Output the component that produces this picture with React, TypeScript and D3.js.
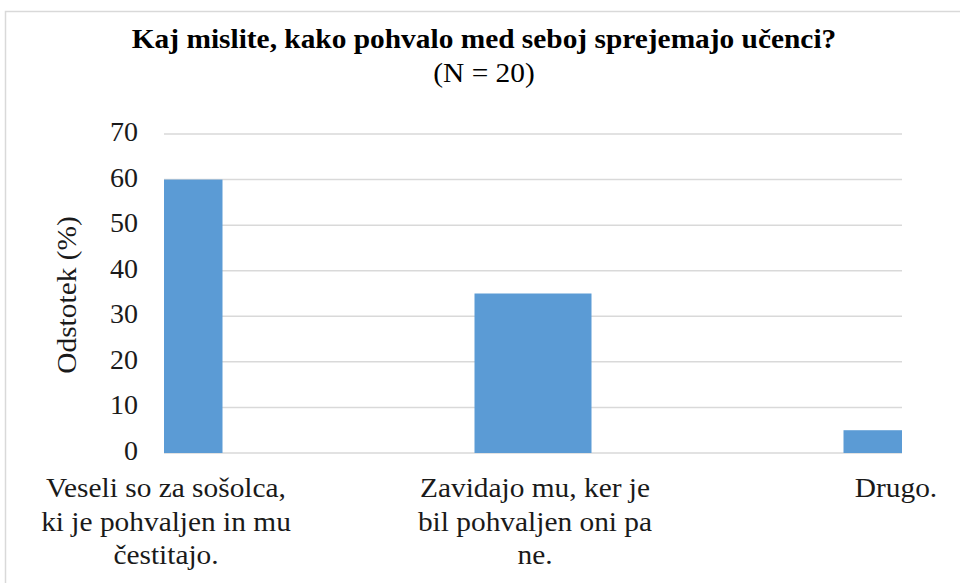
import React from "react";
import * as d3 from "d3";

const categories = [
  ["Veseli so za sošolca,", "ki je pohvaljen in mu", "čestitajo."],
  ["Zavidajo mu, ker je", "bil pohvaljen oni pa", "ne."],
  ["Drugo."],
];
const values = [60, 35, 5];
const yTicks = [0, 10, 20, 30, 40, 50, 60, 70];

const W = 960;
const H = 583;
const FONT = "Liberation Serif";
const TEXT = "#1a1a1a";
const GRID = "#d9d9d9";
const BAR = "#5b9bd5";

// the reference text runs a little wider than the font does
const SX = 1.05;

const left = 164;
const right = 902;
const top = 134;
const bottom = 453;
const barW = 117;

function App() {
  const x = d3
    .scalePoint<number>()
    .domain(categories.map((_, i) => i))
    .range([left, right]);
  const y = d3.scaleLinear().domain([0, 70]).range([bottom, top]);

  const txt = { fontFamily: FONT, fontSize: 28, fill: TEXT };

  // label anchor: last one is pulled in a bit so it stays inside the frame
  const labelX = (i: number) => (x(i) as number) + (i === categories.length - 1 ? -6 : 2);

  return (
    <svg
      width={W}
      height={H}
      style={{ position: "absolute", left: 0, top: 0, background: "#fff" }}
    >
      <defs>
        <clipPath id="plot-clip">
          <rect x={left} y={0} width={right - left} height={H} />
        </clipPath>
      </defs>

      {/* chart border */}
      <path
        d={`M5.5,${H} L5.5,11.5 L${W},11.5`}
        fill="none"
        stroke={GRID}
        strokeWidth={1.5}
      />

      {/* title */}
      <text
        transform={`translate(484,48) scale(${SX},1)`}
        textAnchor="middle"
        style={{ fontFamily: FONT, fontSize: 28, fontWeight: "bold", fill: "#000" }}
      >
        Kaj mislite, kako pohvalo med seboj sprejemajo učenci?
      </text>
      <text
        transform={`translate(484,82) scale(${SX},1)`}
        textAnchor="middle"
        style={{ ...txt, fill: "#000" }}
      >
        (N = 20)
      </text>

      {/* grid */}
      {yTicks.map((t) => (
        <line
          key={t}
          x1={left}
          x2={right}
          y1={y(t)}
          y2={y(t)}
          stroke={GRID}
          strokeWidth={1.5}
        />
      ))}

      {/* y tick labels */}
      {yTicks.map((t) => (
        <text key={t} x={138} y={y(t) + 7} textAnchor="end" style={txt}>
          {t}
        </text>
      ))}

      {/* y axis title */}
      <text
        transform={`translate(76,295) rotate(-90) scale(${SX},1)`}
        textAnchor="middle"
        style={txt}
      >
        Odstotek (%)
      </text>

      {/* bars, on tick marks, clipped by the plot area */}
      <g clipPath="url(#plot-clip)">
        {values.map((v, i) => (
          <rect
            key={i}
            x={(x(i) as number) - barW / 2}
            y={y(v)}
            width={barW}
            height={y(0) - y(v)}
            fill={BAR}
          />
        ))}
      </g>

      {/* category labels */}
      {categories.map((lines, i) =>
        lines.map((line, j) => (
          <text
            key={`${i}-${j}`}
            transform={`translate(${labelX(i)},${497 + j * 33.7}) scale(${SX},1)`}
            textAnchor="middle"
            style={txt}
          >
            {line}
          </text>
        ))
      )}
    </svg>
  );
}

export default App;
